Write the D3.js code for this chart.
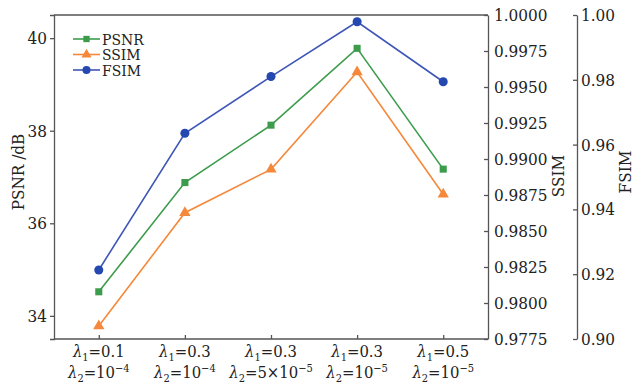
<!DOCTYPE html>
<html>
<head>
<meta charset="utf-8">
<script src="https://cdn.jsdelivr.net/npm/d3@7"></script>
<style>
  body { margin: 0; background: #fff; }
  svg text { font-family: "DejaVu Serif Condensed", "DejaVu Serif", serif; font-stretch: condensed; fill: #222; }
  .axis path, .axis line { stroke: #555; stroke-width: 1.3; }
</style>
</head>
<body>
<div id="chart"></div>
<script>
// parameter settings (x categories)
const lambda1 = ["0.1", "0.3", "0.3", "0.3", "0.5"];
const lambda2 = [["10", "\u22124"], ["10", "\u22124"], ["5\u00d710", "\u22125"], ["10", "\u22125"], ["10", "\u22125"]];
const cats = d3.range(lambda1.length);

// series values
const psnr = [34.52, 36.88, 38.12, 39.78, 37.17];
const ssim = [0.9784, 0.98627, 0.98928, 0.99604, 0.98755];
const fsim = [0.9213, 0.9635, 0.9810, 0.9979, 0.9794];

// tick values
const psnrTicks = [34, 36, 38, 40];
const ssimTicks = d3.range(0, 10).map(i => 0.9775 + i * 0.0025);
const fsimTicks = [0.90, 0.92, 0.94, 0.96, 0.98, 1.00];

const W = 635, H = 389;
const mLeft = 54, mRight = 488, mTop = 15, mBottom = 339;
const fsimX = 577;

const svg = d3.select("#chart").append("svg")
  .attr("width", W).attr("height", H);

// Scales
const x = d3.scalePoint().domain(cats).range([mLeft, mRight]).padding(0.52);
const yP = d3.scaleLinear().domain([33.5, 40.5]).range([mBottom, mTop]);
const yS = d3.scaleLinear().domain([0.9775, 1.0]).range([mBottom, mTop]);
const yF = d3.scaleLinear().domain([0.90, 1.0]).range([mBottom, mTop]);

// frame top line
svg.append("line")
  .attr("x1", mLeft).attr("x2", mRight).attr("y1", mTop).attr("y2", mTop)
  .attr("stroke", "#555").attr("stroke-width", 1.3);

// Axes
svg.append("g").attr("class", "axis")
  .attr("transform", `translate(${mLeft},0)`)
  .call(d3.axisLeft(yP).tickValues(psnrTicks).tickFormat(d3.format("d")).tickSizeOuter(0).tickSize(4).tickPadding(3));

svg.append("g").attr("class", "axis")
  .attr("transform", `translate(${mRight},0)`)
  .call(d3.axisRight(yS).tickValues(ssimTicks).tickFormat(d3.format(".4f")).tickSizeOuter(0).tickSizeInner(-4).tickPadding(6));

svg.append("g").attr("class", "axis")
  .attr("transform", `translate(${fsimX},0)`)
  .call(d3.axisRight(yF).tickValues(fsimTicks).tickFormat(d3.format(".2f")).tickSizeOuter(0).tickSizeInner(-4).tickPadding(4));

const gb = svg.append("g").attr("class", "axis")
  .attr("transform", `translate(0,${mBottom})`)
  .call(d3.axisBottom(x).tickSizeOuter(0).tickSizeInner(-4).tickFormat(""));
gb.select(".domain").attr("d", `M${mLeft},0H${mRight}`);

svg.selectAll(".axis text").style("font-size", "17px").attr("fill", "#222");

// x tick labels (two lines with sub/superscripts)
const xl = svg.append("g").selectAll("text")
  .data(cats)
  .join("text")
  .attr("x", d => x(d))
  .attr("text-anchor", "middle")
  .style("font-size", "16.5px");

xl.append("tspan").attr("x", d => x(d)).attr("y", 357)
  .style("font-style", "italic").text("\u03bb");
xl.append("tspan").attr("dy", 4).style("font-size", "11px").text("1");
xl.append("tspan").attr("dy", -4).text(d => "=" + lambda1[d]);

xl.append("tspan").attr("x", d => x(d)).attr("y", 378)
  .style("font-style", "italic").text("\u03bb");
xl.append("tspan").attr("dy", 4).style("font-size", "11px").text("2");
xl.append("tspan").attr("dy", -4).text(d => "=" + lambda2[d][0]);
xl.append("tspan").attr("dy", -6).style("font-size", "11px").text(d => lambda2[d][1]);

// axis titles
svg.append("text")
  .attr("transform", "translate(18,172) rotate(-90)")
  .attr("text-anchor", "middle").attr("dy", "0.35em")
  .style("font-size", "17px").text("PSNR /dB");
svg.append("text")
  .attr("transform", "translate(558,176) rotate(-90)")
  .attr("text-anchor", "middle").attr("dy", "0.35em")
  .style("font-size", "17px").text("SSIM");
svg.append("text")
  .attr("transform", "translate(625,172) rotate(-90)")
  .attr("text-anchor", "middle").attr("dy", "0.35em")
  .style("font-size", "17px").text("FSIM");

// Series
const series = [
  { name: "PSNR", values: psnr, y: yP, color: "#3c9c4c", mark: d3.symbolSquare, size: 50 },
  { name: "SSIM", values: ssim, y: yS, color: "#f5883a", mark: d3.symbolTriangle, size: 55 },
  { name: "FSIM", values: fsim, y: yF, color: "#3f56b8", mark: d3.symbolCircle, size: 64 }
];

series.forEach(s => {
  const line = d3.line().x((v, i) => x(i)).y(v => s.y(v));
  svg.append("path")
    .datum(s.values)
    .attr("d", line)
    .attr("fill", "none")
    .attr("stroke", s.color)
    .attr("stroke-width", 1.6);
  svg.append("g").selectAll("path")
    .data(s.values)
    .join("path")
    .attr("transform", (v, i) => `translate(${x(i)},${s.y(v)})`)
    .attr("d", d3.symbol().type(s.mark).size(s.size))
    .attr("fill", s.name === "FSIM" ? "#2447b0" : s.color);
});

// Legend
const lg = svg.append("g").attr("transform", "translate(73,39)");
series.forEach((s, i) => {
  const g = lg.append("g").attr("transform", `translate(0,${i * 15.5})`);
  g.append("line").attr("x1", 0).attr("x2", 27)
    .attr("stroke", s.color).attr("stroke-width", 1.6);
  g.append("path").attr("transform", "translate(13.5,0)")
    .attr("d", d3.symbol().type(s.mark).size(s.size * 0.8))
    .attr("fill", s.name === "FSIM" ? "#2447b0" : s.color);
  g.append("text").attr("x", 29).attr("dy", "0.36em")
    .style("font-size", "15.5px").text(s.name);
});
</script>
</body>
</html>
